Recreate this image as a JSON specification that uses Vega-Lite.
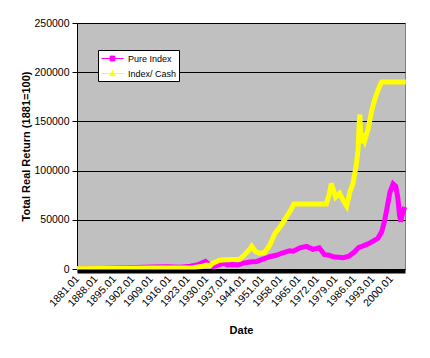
{
  "$schema": "https://vega.github.io/schema/vega-lite/v6.json",
  "width": 328,
  "height": 246,
  "autosize": {"type": "none"},
  "padding": {"left": 77, "top": 23, "right": 25, "bottom": 89},
  "background": "white",
  "config": {"view": {"fill": "#c0c0c0", "stroke": "#808080"}, "font": "Liberation Sans"},
  "data": {"values": [
    {"year": 1881, "value": 100, "series": "Pure Index"},
    {"year": 1890, "value": 500, "series": "Pure Index"},
    {"year": 1900, "value": 1200, "series": "Pure Index"},
    {"year": 1910, "value": 2000, "series": "Pure Index"},
    {"year": 1915, "value": 2200, "series": "Pure Index"},
    {"year": 1920, "value": 1800, "series": "Pure Index"},
    {"year": 1924, "value": 2800, "series": "Pure Index"},
    {"year": 1927, "value": 4500, "series": "Pure Index"},
    {"year": 1929.7, "value": 7800, "series": "Pure Index"},
    {"year": 1931, "value": 5000, "series": "Pure Index"},
    {"year": 1932.5, "value": 2500, "series": "Pure Index"},
    {"year": 1934, "value": 3500, "series": "Pure Index"},
    {"year": 1936.5, "value": 6000, "series": "Pure Index"},
    {"year": 1938, "value": 4000, "series": "Pure Index"},
    {"year": 1940, "value": 4500, "series": "Pure Index"},
    {"year": 1942, "value": 4000, "series": "Pure Index"},
    {"year": 1944, "value": 6000, "series": "Pure Index"},
    {"year": 1946.5, "value": 7200, "series": "Pure Index"},
    {"year": 1949, "value": 7500, "series": "Pure Index"},
    {"year": 1951.5, "value": 10000, "series": "Pure Index"},
    {"year": 1954, "value": 12500, "series": "Pure Index"},
    {"year": 1956.5, "value": 14000, "series": "Pure Index"},
    {"year": 1959, "value": 16500, "series": "Pure Index"},
    {"year": 1961.5, "value": 18500, "series": "Pure Index"},
    {"year": 1963, "value": 18000, "series": "Pure Index"},
    {"year": 1965.5, "value": 21500, "series": "Pure Index"},
    {"year": 1968, "value": 23000, "series": "Pure Index"},
    {"year": 1970.4, "value": 20000, "series": "Pure Index"},
    {"year": 1972.8, "value": 21500, "series": "Pure Index"},
    {"year": 1974.8, "value": 14500, "series": "Pure Index"},
    {"year": 1976.5, "value": 14000, "series": "Pure Index"},
    {"year": 1978, "value": 12500, "series": "Pure Index"},
    {"year": 1982, "value": 11500, "series": "Pure Index"},
    {"year": 1984, "value": 13000, "series": "Pure Index"},
    {"year": 1986, "value": 17000, "series": "Pure Index"},
    {"year": 1987.8, "value": 22000, "series": "Pure Index"},
    {"year": 1989.5, "value": 23500, "series": "Pure Index"},
    {"year": 1992, "value": 26500, "series": "Pure Index"},
    {"year": 1995, "value": 31000, "series": "Pure Index"},
    {"year": 1996.5, "value": 38000, "series": "Pure Index"},
    {"year": 1997.5, "value": 48000, "series": "Pure Index"},
    {"year": 1998.5, "value": 62000, "series": "Pure Index"},
    {"year": 1999.6, "value": 78000, "series": "Pure Index"},
    {"year": 2000.8, "value": 86500, "series": "Pure Index"},
    {"year": 2001.8, "value": 84000, "series": "Pure Index"},
    {"year": 2002.6, "value": 72000, "series": "Pure Index"},
    {"year": 2003.2, "value": 55000, "series": "Pure Index"},
    {"year": 2003.7, "value": 48000, "series": "Pure Index"},
    {"year": 2004.3, "value": 56000, "series": "Pure Index"},
    {"year": 2005.2, "value": 63000, "series": "Pure Index"},
    {"year": 1881, "value": 300, "series": "Index/ Cash"},
    {"year": 1890, "value": 400, "series": "Index/ Cash"},
    {"year": 1900, "value": 700, "series": "Index/ Cash"},
    {"year": 1910, "value": 900, "series": "Index/ Cash"},
    {"year": 1920, "value": 1000, "series": "Index/ Cash"},
    {"year": 1925, "value": 1200, "series": "Index/ Cash"},
    {"year": 1928, "value": 2500, "series": "Index/ Cash"},
    {"year": 1930, "value": 4000, "series": "Index/ Cash"},
    {"year": 1931.5, "value": 3500, "series": "Index/ Cash"},
    {"year": 1932.5, "value": 6000, "series": "Index/ Cash"},
    {"year": 1935, "value": 9000, "series": "Index/ Cash"},
    {"year": 1939, "value": 9600, "series": "Index/ Cash"},
    {"year": 1942.7, "value": 9800, "series": "Index/ Cash"},
    {"year": 1944.6, "value": 14700, "series": "Index/ Cash"},
    {"year": 1946.5, "value": 20000, "series": "Index/ Cash"},
    {"year": 1947.2, "value": 23000, "series": "Index/ Cash"},
    {"year": 1948.5, "value": 18000, "series": "Index/ Cash"},
    {"year": 1950, "value": 16000, "series": "Index/ Cash"},
    {"year": 1952, "value": 16500, "series": "Index/ Cash"},
    {"year": 1954, "value": 24000, "series": "Index/ Cash"},
    {"year": 1956, "value": 36000, "series": "Index/ Cash"},
    {"year": 1958, "value": 43000, "series": "Index/ Cash"},
    {"year": 1960.4, "value": 53000, "series": "Index/ Cash"},
    {"year": 1962, "value": 60000, "series": "Index/ Cash"},
    {"year": 1963.2, "value": 66000, "series": "Index/ Cash"},
    {"year": 1975.5, "value": 66000, "series": "Index/ Cash"},
    {"year": 1976.5, "value": 75000, "series": "Index/ Cash"},
    {"year": 1977.4, "value": 87000, "series": "Index/ Cash"},
    {"year": 1978.2, "value": 80000, "series": "Index/ Cash"},
    {"year": 1979, "value": 73000, "series": "Index/ Cash"},
    {"year": 1980.5, "value": 77000, "series": "Index/ Cash"},
    {"year": 1981.8, "value": 70000, "series": "Index/ Cash"},
    {"year": 1983.2, "value": 64000, "series": "Index/ Cash"},
    {"year": 1984.4, "value": 78000, "series": "Index/ Cash"},
    {"year": 1985.6, "value": 87000, "series": "Index/ Cash"},
    {"year": 1986.8, "value": 105000, "series": "Index/ Cash"},
    {"year": 1987.5, "value": 121000, "series": "Index/ Cash"},
    {"year": 1988, "value": 150000, "series": "Index/ Cash"},
    {"year": 1988.2, "value": 157000, "series": "Index/ Cash"},
    {"year": 1988.6, "value": 128000, "series": "Index/ Cash"},
    {"year": 1989.3, "value": 138000, "series": "Index/ Cash"},
    {"year": 1990.1, "value": 131000, "series": "Index/ Cash"},
    {"year": 1991.3, "value": 142000, "series": "Index/ Cash"},
    {"year": 1992.6, "value": 160000, "series": "Index/ Cash"},
    {"year": 1993.8, "value": 172000, "series": "Index/ Cash"},
    {"year": 1995.1, "value": 182000, "series": "Index/ Cash"},
    {"year": 1996.4, "value": 190000, "series": "Index/ Cash"},
    {"year": 2005.6, "value": 190000, "series": "Index/ Cash"}
  ]},
  "encoding": {
    "x": {"field": "year", "type": "quantitative",
      "scale": {"domain": [1881, 2005.3], "nice": false, "zero": false},
      "axis": {"values": [1881, 1888, 1895, 1902, 1909, 1916, 1923, 1930, 1937, 1944, 1951, 1958, 1965, 1972, 1979, 1986, 1993, 2000],
        "labelExpr": "datum.value + '.01'", "labelAngle": -47, "labelAlign": "right", "labelBaseline": "middle",
        "labelFontSize": 10.5, "labelColor": "#000", "labelPadding": 6, "labelOverlap": false, "labelFlush": false,
        "ticks": false, "domainColor": "#000", "domainWidth": 4, "offset": 2, "grid": false,
        "title": "Date", "titleFontWeight": "bold", "titleFontSize": 11, "titleColor": "#000", "titlePadding": 16, "zindex": 1}},
    "y": {"field": "value", "type": "quantitative",
      "scale": {"domain": [0, 250000], "nice": false},
      "axis": {"values": [0, 50000, 100000, 150000, 200000, 250000], "format": "d",
        "grid": true, "gridColor": "#000", "gridWidth": 1, "domainColor": "#000", "tickColor": "#000", "tickSize": 5,
        "labelFontSize": 10.5, "labelColor": "#000", "labelPadding": 3,
        "title": "Total Real Return (1881=100)", "titleFontSize": 11, "titleFontWeight": "bold", "titleColor": "#000", "titlePadding": 2}},
    "color": {"field": "series", "type": "nominal",
      "scale": {"domain": ["Pure Index", "Index/ Cash"], "range": ["#ff00ff", "#ffff00"]},
      "legend": {"orient": "none", "legendX": 21, "legendY": 27, "title": null,
        "fillColor": "#ffffff", "strokeColor": "#000000", "padding": 2,
        "symbolSize": 144, "symbolOffset": 6, "labelFontSize": 9, "labelColor": "#000", "labelOffset": 9, "rowPadding": 3,
        "encode": {"symbols": {"update": {
          "shape": {"signal": "datum.value === 'Pure Index' ? 'M-1.85,0L1.85,0M-0.4,-0.4L0.4,-0.4L0.4,0.4L-0.4,0.4Z' : 'M-1.85,0L1.85,0M0,-0.5L0.45,0.35L-0.45,0.35Z'"},
          "fill": {"scale": "color", "field": "value"},
          "stroke": {"scale": "color", "field": "value"},
          "strokeWidth": {"value": 1},
          "opacity": {"value": 1}}}}}}
  },
  "layer": [
    {"transform": [{"filter": "datum.series === 'Pure Index'"}],
     "mark": {"type": "line", "strokeWidth": 5}},
    {"transform": [{"filter": "datum.series === 'Index/ Cash'"}],
     "mark": {"type": "line", "strokeWidth": 5}}
  ]
}
